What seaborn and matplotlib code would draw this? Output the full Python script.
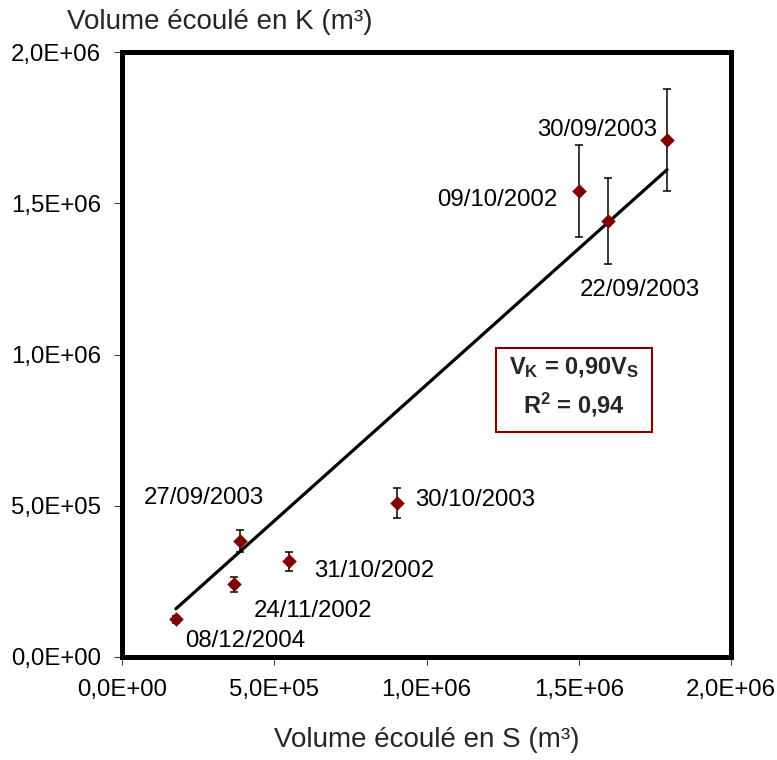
import matplotlib
matplotlib.use("Agg")
import matplotlib.pyplot as plt
from matplotlib.patches import Rectangle
from matplotlib.ticker import FuncFormatter, MultipleLocator
import numpy as np
import pandas as pd
import seaborn as sns

# Flood event volumes (m3) at stations S and K, with uncertainty on K
dates = ["08/12/2004", "24/11/2002", "27/09/2003", "31/10/2002",
         "30/10/2003", "09/10/2002", "22/09/2003", "30/09/2003"]
vol_s = [1.77e5, 3.68e5, 3.88e5, 5.48e5, 9.04e5, 1.502e6, 1.596e6, 1.790e6]
vol_k = [1.25e5, 2.40e5, 3.83e5, 3.16e5, 5.08e5, 1.540e6, 1.442e6, 1.709e6]
err_k = [1.2e4, 2.4e4, 3.7e4, 3.2e4, 5.0e4, 1.53e5, 1.43e5, 1.70e5]

slope = 0.90
r2 = 0.94

# label placement relative to each point: (right, down) in pixels, alignment
label_offsets = [(9, 22, "left"), (20, 27, "left"), (-96, -43, "left"),
                 (25, 10, "left"), (18, -3, "left"), (-22, 9, "right"),
                 (-28, 69, "left"), (-10, -10, "right")]

df = pd.DataFrame({"date": dates, "VS": vol_s, "VK": vol_k, "err": err_k})

sns.set_theme(style="white")
plt.rcParams["font.family"] = ["Liberation Sans", "DejaVu Sans"]
plt.rcParams["mathtext.fontset"] = "custom"
plt.rcParams["mathtext.rm"] = "Liberation Sans"
plt.rcParams["mathtext.bf"] = "Liberation Sans:bold"

W, H = 777, 760
fig = plt.figure(figsize=(W / 100, H / 100), dpi=100)
fig.patch.set_facecolor("white")
ax = fig.add_axes([122 / W, 1 - 657 / H, (731 - 122) / W, (657 - 52) / H])
ax.set_facecolor("white")

maroon = "#800000"

# regression line V_K = 0.90 V_S over the observed range
xs = np.array([df["VS"].min(), df["VS"].max()])
fit = pd.DataFrame({"x": xs, "y": slope * xs})
sns.lineplot(data=fit, x="x", y="y", ax=ax, color="black", linewidth=2.3, zorder=2)

ax.errorbar(df["VS"], df["VK"], yerr=df["err"], fmt="none", ecolor="black",
            elinewidth=1.1, capsize=3, capthick=1.1, zorder=3)

sns.scatterplot(data=df, x="VS", y="VK", ax=ax, marker="D", s=55,
                color=maroon, linewidth=0, zorder=4)

for (d, x, y), (dx, dy, ha) in zip(zip(dates, vol_s, vol_k), label_offsets):
    ax.annotate(d, (x, y), xytext=(dx, -dy), textcoords="offset pixels",
                ha=ha, va="center", fontsize=17.3, color="black")

ax.set_xlim(0, 2e6)
ax.set_ylim(0, 2e6)
ax.xaxis.set_major_locator(MultipleLocator(5e5))
ax.yaxis.set_major_locator(MultipleLocator(5e5))
fmt = FuncFormatter(lambda v, p: f"{v:.1E}".replace(".", ","))
ax.xaxis.set_major_formatter(fmt)
ax.yaxis.set_major_formatter(fmt)
ax.set_xlabel("")
ax.set_ylabel("")

for sp in ax.spines.values():
    sp.set_visible(True)
    sp.set_color("black")
    sp.set_linewidth(3.6)

ax.tick_params(axis="both", which="major", direction="out", length=6,
               width=0.8, color="#444444", labelsize=17.3, labelcolor="black",
               bottom=True, left=True, top=False, right=False)
ax.tick_params(axis="x", pad=10)
ax.tick_params(axis="y", pad=9)

# equation box
ax.add_patch(Rectangle((0.614, 0.372), 0.256, 0.139, transform=ax.transAxes,
                       facecolor="white", edgecolor=maroon, linewidth=1.5,
                       zorder=5))
slope_txt = f"{slope:.2f}".replace(".", ",")
r2_txt = f"{r2:.2f}".replace(".", ",")
ax.text(0.742, 0.479, r"$\mathbf{V_K}$ = " + slope_txt + r"$\mathbf{V_S}$",
        transform=ax.transAxes, ha="center", va="center", fontsize=17,
        fontweight="bold", zorder=6)
ax.text(0.742, 0.4165, r"$\mathbf{R^2}$ = " + r2_txt,
        transform=ax.transAxes, ha="center", va="center", fontsize=17,
        fontweight="bold", zorder=6)

fig.text(67 / W, 1 - 22 / H, "Volume écoulé en K (m³)", ha="left",
         va="center", fontsize=20)
fig.text(426.5 / W, 1 - 740 / H, "Volume écoulé en S (m³)", ha="center",
         va="center", fontsize=20)

fig.savefig("out.png", dpi=100, facecolor="white")
